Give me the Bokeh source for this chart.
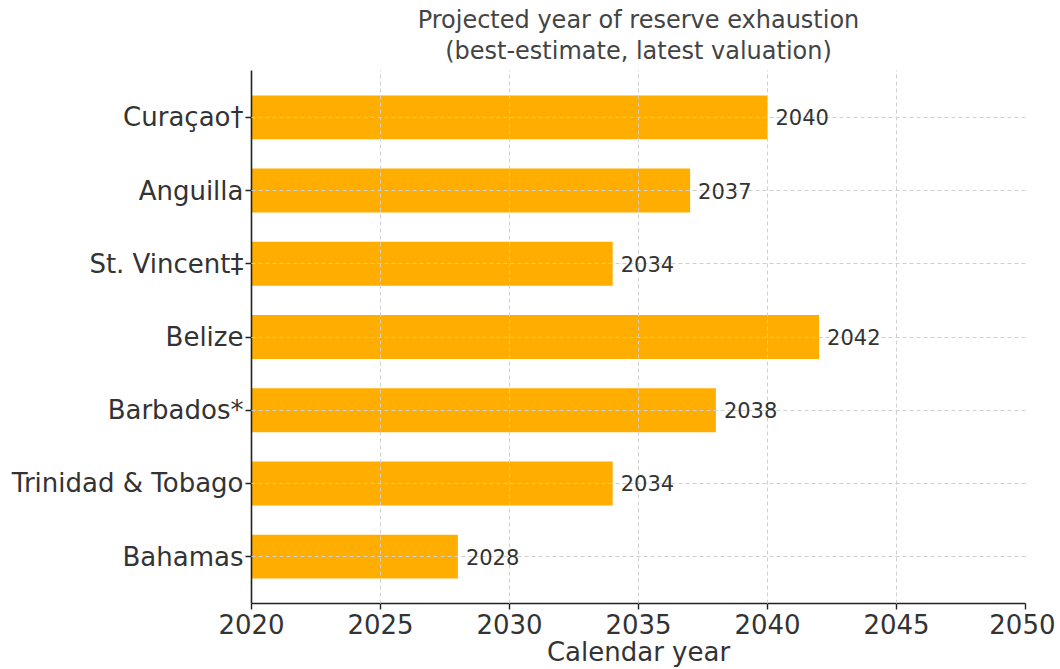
from bokeh.plotting import figure
from bokeh.models import Range1d, FixedTicker, ColumnDataSource, LabelSet, Title
from bokeh.core.properties import value
from bokeh.embed import file_html
from bokeh.resources import INLINE

countries = ["Bahamas", "Trinidad & Tobago", "Barbados*", "Belize",
             "St. Vincent\u2021", "Anguilla", "Cura\u00e7ao\u2020"]
years = [2028, 2034, 2038, 2042, 2034, 2037, 2040]
x_ticks = [2020, 2025, 2030, 2035, 2040, 2045, 2050]
title_lines = ["Projected year of reserve exhaustion", "(best-estimate, latest valuation)"]

FONT = "DejaVu Sans"
TXT = "#333333"

idx = list(range(len(countries)))
src = ColumnDataSource(dict(y=idx, year=years, left=[x_ticks[0]] * len(years),
                            lab=[str(v) for v in years]))

p = figure(frame_width=774, frame_height=533,
           x_range=Range1d(2020, 2050), y_range=Range1d(-0.64, 6.64),
           output_backend="svg", toolbar_location=None, title=None,
           min_border_left=251, min_border_right=30, min_border_top=70, min_border_bottom=0)

p.hbar(y="y", left="left", right="year", height=0.6, source=src,
       fill_color="#FFAE00", line_color=None)

labels = LabelSet(x="year", y="y", text="lab", source=src, x_offset=8,
                  text_align="left", text_baseline="middle",
                  text_font=value(FONT), text_font_size="21px", text_color=TXT)
p.add_layout(labels)

p.add_layout(Title(text=title_lines[1], align="center",
                   text_font=FONT, text_font_size="24px", text_font_style="normal",
                   text_color="#444444", text_line_height=0.85, standoff=11), "above")
p.add_layout(Title(text=title_lines[0], align="center",
                   text_font=FONT, text_font_size="24px", text_font_style="normal",
                   text_color="#444444", text_line_height=0.85, standoff=-8), "above")

p.outline_line_color = None
p.background_fill_color = "white"
p.border_fill_color = "white"

for g in (p.xgrid, p.ygrid):
    g.grid_line_color = "#cfcfcf"
    g.grid_line_dash = "4 3"
    g.grid_line_width = 1
    g.level = "guide"

p.xaxis.ticker = FixedTicker(ticks=x_ticks)
p.yaxis.ticker = FixedTicker(ticks=idx)
p.yaxis.major_label_overrides = {i: c for i, c in enumerate(countries)}
p.xaxis.axis_label = "Calendar year"

for ax in (p.xaxis, p.yaxis):
    ax.axis_line_color = "#222222"
    ax.axis_line_width = 1.6
    ax.major_tick_line_color = "#222222"
    ax.major_tick_line_width = 1.4
    ax.major_tick_out = 6
    ax.major_tick_in = 0
    ax.minor_tick_line_color = None
    ax.major_label_text_font = FONT
    ax.major_label_text_font_size = "26px"
    ax.major_label_text_color = TXT
    ax.axis_label_text_font = FONT
    ax.axis_label_text_font_size = "26px"
    ax.axis_label_text_font_style = "normal"
    ax.axis_label_text_color = TXT

p.xaxis.major_label_standoff = 4
p.xaxis.axis_label_standoff = 0
p.yaxis.major_label_standoff = 2

open("out.html", "w").write(file_html(p, INLINE))
